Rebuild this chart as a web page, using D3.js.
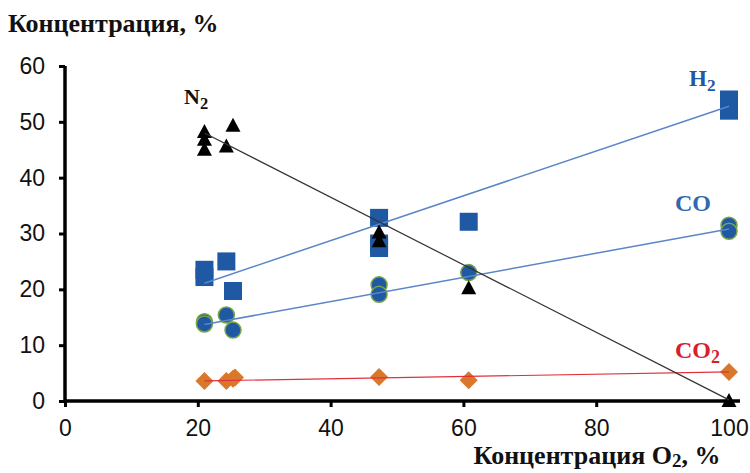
<!DOCTYPE html>
<html><head><meta charset="utf-8">
<script src="https://cdn.jsdelivr.net/npm/d3@7"></script>
<style>body{margin:0;background:#fff}svg{display:block}</style>
</head><body>
<svg id="c" width="750" height="473"></svg>
<script>
// ---- data ----
const xTicks = [0, 20, 40, 60, 80, 100];
const yTicks = [0, 10, 20, 30, 40, 50, 60];
const n2X = [21, 21, 21, 24.3, 25.3, 47.3, 47.3, 60.8, 100];
const n2Y = [48.2, 46.8, 45.0, 45.6, 49.3, 30.2, 28.6, 20.2, 0];
const h2X = [21, 21, 24.3, 25.3, 47.3, 47.3, 47.3, 60.8, 100, 100];
const h2Y = [23.5, 22.2, 25.0, 19.7, 32.8, 28.2, 27.4, 32.1, 54.0, 52.0];
const coX = [21, 21, 24.3, 25.3, 47.3, 47.3, 60.8, 100, 100];
const coY = [14.2, 13.8, 15.4, 12.7, 20.8, 19.1, 23.0, 31.5, 30.4];
const co2X = [21, 24.3, 25.3, 25.6, 47.3, 60.8, 100];
const co2Y = [3.6, 3.6, 4.0, 4.2, 4.3, 3.7, 5.2];
// trend lines: [x0, y0, x1, y1]
const n2Trend = [21, 48.0, 100, 0.2];
const h2Trend = [21, 21.1, 100, 52.8];
const coTrend = [21, 13.7, 100, 30.8];
const co2Trend = [21, 3.6, 100, 5.2];

// ---- scales ----
const svg = d3.select("#c");
const x = d3.scaleLinear().domain([0, 100]).range([65, 729]);
const y = d3.scaleLinear().domain([0, 60]).range([401, 66]);
const serif = "'Liberation Serif','Times New Roman',serif";
const sans = "'Liberation Sans',Arial,sans-serif";

// axes
const yAxis = svg.append("g").attr("transform", "translate(65,0)")
  .call(d3.axisLeft(y).tickValues(yTicks).tickSize(6).tickSizeOuter(0).tickPadding(14));
const xAxis = svg.append("g").attr("transform", "translate(0,401)")
  .call(d3.axisBottom(x).tickValues(xTicks).tickSize(6).tickSizeOuter(0).tickPadding(13));
[yAxis, xAxis].forEach(a => {
  a.select(".domain").attr("stroke", "#000").attr("stroke-width", 3.5);
  a.selectAll(".tick line").attr("stroke", "#000").attr("stroke-width", 3);
  a.selectAll("text").attr("font-family", sans).attr("font-size", 23).attr("fill", "#111");
});
xAxis.select(".domain").attr("d", "M65,0H740");
yAxis.select(".domain").attr("d", "M0,401V66");

// trend lines
function trend(t, color, w) {
  svg.append("line").attr("x1", x(t[0])).attr("y1", y(t[1]))
    .attr("x2", x(t[2])).attr("y2", y(t[3]))
    .attr("stroke", color).attr("stroke-width", w);
}

// markers
const h2 = svg.append("g");
h2.selectAll("rect").data(d3.range(h2X.length)).join("rect")
  .attr("x", i => x(h2X[i]) - 9).attr("y", i => y(h2Y[i]) - 9)
  .attr("width", 18).attr("height", 18).attr("fill", "#1f58a3");
const co = svg.append("g");
co.selectAll("circle").data(d3.range(coX.length)).join("circle")
  .attr("cx", i => x(coX[i])).attr("cy", i => y(coY[i])).attr("r", 8)
  .attr("fill", "#1f58a3").attr("stroke", "#7aa34a").attr("stroke-width", 1.5);
const co2 = svg.append("g");
co2.selectAll("path").data(d3.range(co2X.length)).join("path")
  .attr("transform", i => `translate(${x(co2X[i])},${y(co2Y[i])})`)
  .attr("d", "M0,-9L9,0L0,9L-9,0Z").attr("fill", "#d9772b");
trend(h2Trend, "#5a86c8", 1.5);
trend(coTrend, "#5a86c8", 1.5);
trend(co2Trend, "#e0303a", 1.2);
const n2 = svg.append("g");
n2.selectAll("path").data(d3.range(n2X.length)).join("path")
  .attr("transform", i => `translate(${x(n2X[i])},${y(n2Y[i])})`)
  .attr("d", "M0,-8L7.5,6L-7.5,6Z").attr("fill", "#000");
trend(n2Trend, "#333", 1.2);

// series labels
function label(px, py, main, sub, color, size, bold) {
  const t = svg.append("text").attr("x", px).attr("y", py).attr("font-family", serif)
    .attr("font-size", size).attr("font-weight", bold ? "bold" : "normal").attr("fill", color);
  t.append("tspan").text(main);
  if (sub) t.append("tspan").attr("dy", 5).attr("font-size", size * 0.75).text(sub);
}
label(184, 104, "N", "2", "#111", 22, true);
label(689, 86, "H", "2", "#1f58a3", 23, true);
label(675, 211, "CO", null, "#2f67b0", 24, true);
label(675, 358, "CO", "2", "#d8202a", 24, true);

// titles
svg.append("text").attr("x", 8).attr("y", 32).attr("font-family", serif)
  .attr("font-size", 26).attr("font-weight", "bold").attr("fill", "#111").text("Концентрация, %");
const xt = svg.append("text").attr("x", 597).attr("y", 464).attr("text-anchor", "middle")
  .attr("font-family", serif).attr("font-size", 26).attr("font-weight", "bold").attr("fill", "#111");
xt.append("tspan").text("Концентрация O");
xt.append("tspan").attr("dy", 3).attr("font-size", 19).text("2");
xt.append("tspan").attr("dy", -3).text(", %");
</script>
</body></html>
